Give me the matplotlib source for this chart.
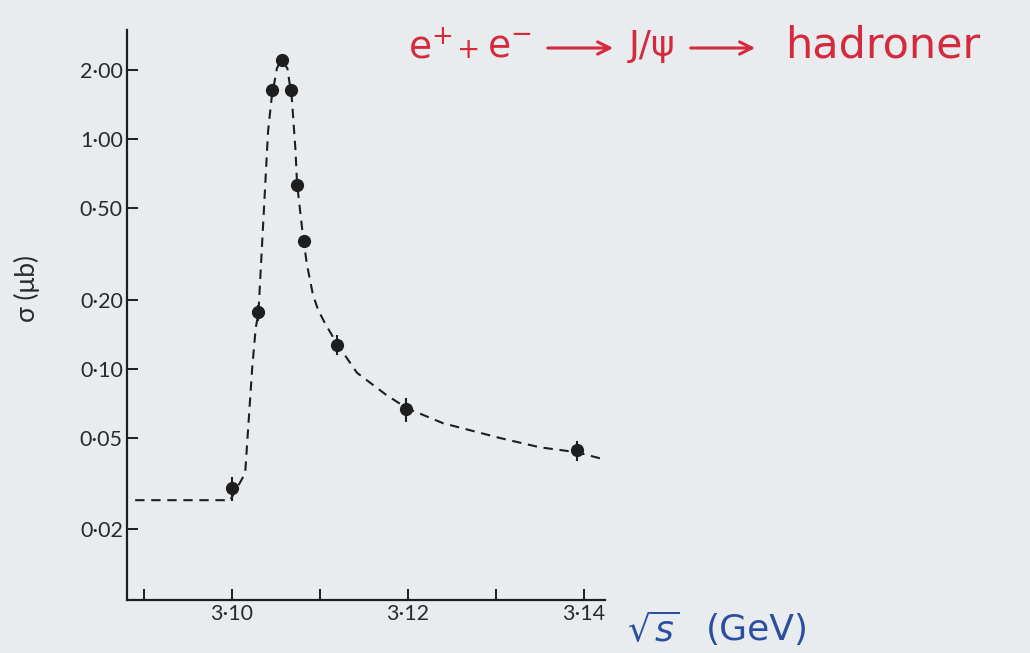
import matplotlib
matplotlib.use("Agg")
import matplotlib.pyplot as plt
from matplotlib.patches import FancyArrowPatch
from matplotlib.ticker import FixedLocator, NullLocator

plt.rcParams['font.family'] = ['Lato', 'DejaVu Sans']

# Measured cross sections e+e- -> hadrons around the J/psi
energy_gev = [3.1000, 3.1030, 3.1045, 3.1057, 3.1067, 3.1074, 3.1082, 3.1119, 3.1198, 3.1392]
sigma_ub = [0.0301, 0.176, 1.65, 2.23, 1.64, 0.632, 0.361, 0.127, 0.0665, 0.0441]
sigma_err_frac = [0.12, 0.08, 0.0, 0.0, 0.0, 0.0, 0.0, 0.10, 0.12, 0.10]

# Fitted resonance curve (dashed)
fit_energy = [3.0890, 3.0998, 3.1015, 3.1018, 3.1023, 3.1027, 3.1030, 3.1034, 3.1038,
              3.1041, 3.1045, 3.1051, 3.1056, 3.1063, 3.1068, 3.1072, 3.1074, 3.1080,
              3.1085, 3.1092, 3.1098, 3.1106, 3.1119, 3.1142, 3.1176, 3.1199, 3.1240,
              3.1305, 3.1350, 3.1392, 3.1422]
fit_sigma = [0.0267, 0.0267, 0.0350, 0.0523, 0.101, 0.151, 0.174, 0.337, 0.658,
             1.086, 1.51, 2.04, 2.23, 2.04, 1.51, 0.916, 0.639, 0.399,
             0.287, 0.210, 0.180, 0.157, 0.129, 0.096, 0.0765, 0.0672, 0.0578,
             0.0498, 0.0454, 0.0432, 0.0403]

y_ticks = [0.02, 0.05, 0.10, 0.20, 0.50, 1.00, 2.00]
y_tick_labels = ['0·02', '0·05', '0·10', '0·20', '0·50', '1·00', '2·00']
x_ticks = [3.09, 3.10, 3.11, 3.12, 3.13, 3.14]
x_tick_labels = ['', '3·10', '', '3·12', '', '3·14']

bg = '#e9ecef'
ink = '#1e1e1e'
red = '#d42a3c'
blue = '#2b4fa0'

W, H = 1030, 653
fig = plt.figure(figsize=(W / 100, H / 100), dpi=100, facecolor=bg)
ax = fig.add_axes([0.1233, 0.0812, 0.4641, 0.8728], facecolor=bg)

ax.plot(fit_energy, fit_sigma, linestyle=(0, (4.5, 3.2)), color=ink, linewidth=1.5)

yerr = [s * f for s, f in zip(sigma_ub, sigma_err_frac)]
ax.errorbar(energy_gev, sigma_ub, yerr=yerr, fmt='o', color=ink, markersize=8.5,
            elinewidth=1.5, capsize=0, zorder=3)

ax.set_yscale('log')
ax.set_xlim(3.08807, 3.14239)
ax.set_ylim(0.0098, 3.0)

ax.yaxis.set_major_locator(FixedLocator(y_ticks))
ax.yaxis.set_minor_locator(NullLocator())
ax.set_yticklabels(y_tick_labels)
ax.xaxis.set_major_locator(FixedLocator(x_ticks))
ax.set_xticklabels(x_tick_labels)

for side in ('top', 'right'):
    ax.spines[side].set_visible(False)
for side in ('left', 'bottom'):
    ax.spines[side].set_color(ink)
    ax.spines[side].set_linewidth(1.6)

ax.tick_params(axis='both', direction='in', length=8, width=1.4, color=ink,
               labelsize=15.5, labelcolor='#2a2a2a', pad=3)


def px(x, y):
    """Pixel position (from top-left) to figure fraction."""
    return x / W, 1 - y / H


fig.text(*px(27, 288), 'σ (μb)', rotation=90, ha='center', va='center',
         fontsize=19, color='#2a2a2a')

# Axis title for the energy axis
fig.text(*px(627, 630), r'$\sqrt{s}$', ha='left', va='center', fontsize=26,
         color=blue, family='DejaVu Sans')
fig.text(*px(706, 630), '(GeV)', ha='left', va='center', fontsize=26,
         color=blue, family='DejaVu Sans')

# Reaction written in the upper right
title_kw = dict(va='center', color=red, family='DejaVu Sans')
fig.text(*px(408, 48), r'$\mathregular{e^{+}}$', ha='left', fontsize=27, **title_kw)
fig.text(*px(469, 50), '+', ha='center', fontsize=20, **title_kw)
fig.text(*px(487, 48), r'$\mathregular{e^{-}}$', ha='left', fontsize=27, **title_kw)
fig.text(*px(652, 46), 'J/ψ', ha='center', fontsize=26, **title_kw)
fig.text(*px(883, 46), 'hadroner', ha='center', fontsize=31, **title_kw)
arrow_kw = dict(arrowstyle='->', color=red, lw=2.2, mutation_scale=22,
                transform=fig.transFigure)
fig.add_artist(FancyArrowPatch(px(545, 48), px(616, 48), **arrow_kw))
fig.add_artist(FancyArrowPatch(px(688, 48), px(758, 48), **arrow_kw))

fig.savefig('out.png', dpi=100, facecolor=bg)
